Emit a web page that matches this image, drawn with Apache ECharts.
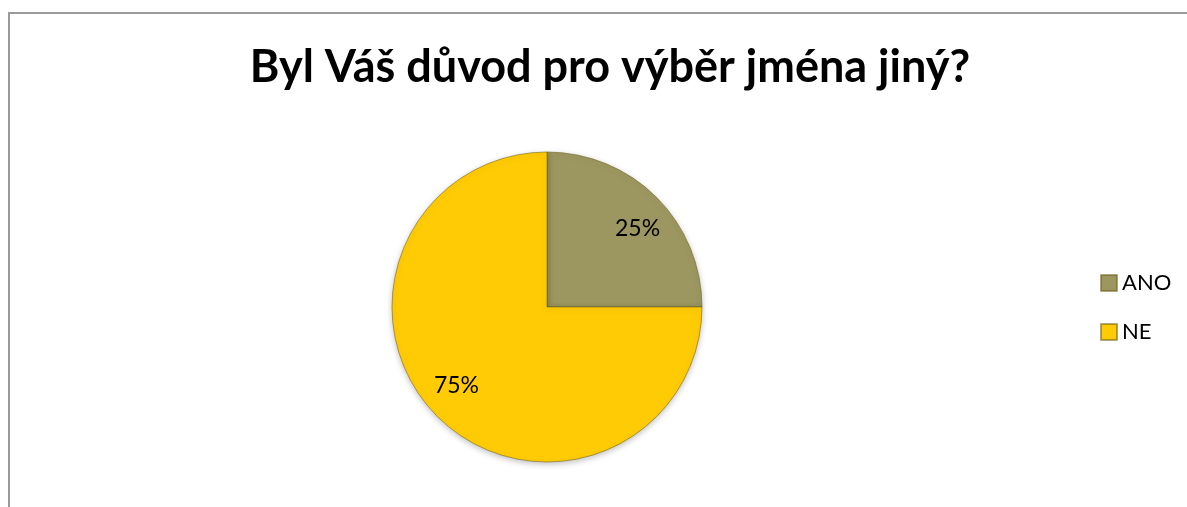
<!DOCTYPE html>
<html style="height: 100%">
<head>
    <meta charset="utf-8">
    <style type="text/css">
        body{margin:0;background:#fff;}
        .frame{position:absolute;left:8px;top:12px;width:1179px;height:495px;
            border-left:2px solid #9a9a9a;border-top:2px solid #9a9a9a;}
        #container{position:absolute;left:0;top:0;width:1187px;height:507px;}
    </style>
</head>
<body>
<div class="frame"></div>
<div id="container"></div>
<script src="https://cdn.jsdelivr.net/npm/echarts@6/dist/echarts.min.js"></script>
<script type="text/javascript">
    var titleText = 'Byl Váš důvod pro výběr jména jiný?';
    var categories = ['ANO', 'NE'];
    var values = [25, 75];
    var colors = ['#9c9660', '#ffcb05'];

    var pieData = categories.map(function (name, i) {
        return {value: values[i], name: name};
    });

    var myPie = echarts.init(document.getElementById('container'));
    var option = {
        color: colors,
        title: {
            text: titleText,
            left: 605,
            textAlign: 'center',
            top: 40,
            textStyle: {
                fontFamily: 'Lato',
                fontWeight: 'bold',
                fontSize: 45,
                color: '#000'
            }
        },
        legend: {
            orient: 'vertical',
            left: 1100,
            top: 272,
            padding: 0,
            itemWidth: 16,
            itemHeight: 16,
            itemGap: 27,
            icon: 'rect',
            data: categories,
            textStyle: {
                fontFamily: 'Lato',
                fontSize: 22,
                color: '#000'
            }
        },
        series: [
            {
                type: 'pie',
                center: [547, 307],
                radius: [0, 155],
                startAngle: 90,
                clockwise: true,
                silent: true,
                label: {show: false},
                labelLine: {show: false},
                itemStyle: {
                    borderColor: 'rgba(110,95,20,0.55)',
                    borderWidth: 1,
                    shadowBlur: 6,
                    shadowColor: 'rgba(0,0,0,0.25)',
                    shadowOffsetY: 2
                },
                data: pieData
            },
            {
                // invisible ring, only used to place the percent labels
                type: 'pie',
                center: [547, 307],
                radius: [78, 156],
                startAngle: 86,
                clockwise: true,
                silent: true,
                itemStyle: {color: 'rgba(0,0,0,0)'},
                label: {
                    position: 'inside',
                    formatter: '{d}%',
                    fontFamily: 'Lato',
                    fontSize: 23,
                    color: '#000'
                },
                labelLine: {show: false},
                data: pieData
            }
        ]
    };
    myPie.setOption(option);
</script>
</body>
</html>
